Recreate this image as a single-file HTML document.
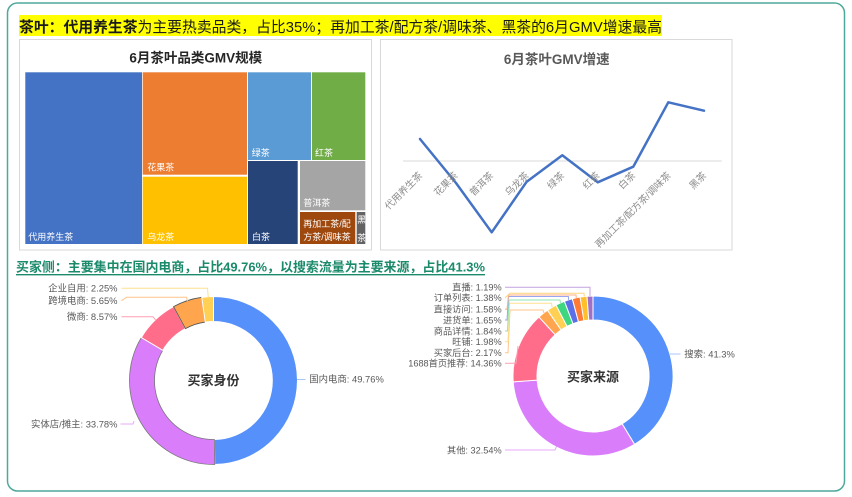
<!DOCTYPE html>
<html><head><meta charset="utf-8"><style>
html,body{margin:0;padding:0;background:#fff;}
svg{display:block;}
text{font-family:"Liberation Sans","Noto Sans CJK SC",sans-serif;}
</style></head><body>
<svg width="852" height="497" viewBox="0 0 852 497" xmlns="http://www.w3.org/2000/svg">
<defs>
<clipPath id="hc"><rect x="356.7" y="212" width="8.6" height="32"/></clipPath>
</defs>
<rect x="0" y="0" width="852" height="497" fill="#fff"/>
<rect x="7.5" y="3" width="837" height="488" rx="10" ry="10" fill="#fff" stroke="#4fa99a" stroke-width="1.5"/>

<!-- header 1 -->
<rect x="19" y="15" width="643" height="21" fill="#ffff00"/>
<text x="19" y="32" font-size="15" fill="#1a1a1a" textLength="643" lengthAdjust="spacingAndGlyphs"><tspan font-weight="bold">茶叶：代用养生茶</tspan>为主要热卖品类，占比35%；再加工茶/配方茶/调味茶、黑茶的6月GMV增速最高</text>

<!-- treemap box -->
<rect x="19.5" y="39.5" width="352" height="210.5" fill="#fff" stroke="#d9d9d9" stroke-width="1"/>
<text x="195.7" y="62.5" font-size="13.5" font-weight="bold" fill="#262626" text-anchor="middle">6月茶叶品类GMV规模</text>
<g stroke="#fff" stroke-width="0">
<rect x="25.3" y="72.3" width="116.7" height="171.7" fill="#4472c4"/>
<rect x="142.7" y="72.3" width="104.3" height="102.4" fill="#ed7d31"/>
<rect x="142.7" y="176.7" width="104.3" height="67.3" fill="#ffc000"/>
<rect x="248" y="72.3" width="63" height="87.7" fill="#5b9bd5"/>
<rect x="312" y="72.3" width="53.3" height="87.7" fill="#70ad47"/>
<rect x="248" y="161" width="49.7" height="83" fill="#264478"/>
<rect x="300" y="161" width="65.3" height="49.3" fill="#a5a5a5"/>
<rect x="300" y="212" width="55.3" height="32" fill="#9e480e"/>
<rect x="356.7" y="212" width="8.6" height="32" fill="#636363"/>
</g>
<g font-size="9" fill="#fff">
<text x="28.3" y="240">代用养生茶</text>
<text x="147.3" y="170.5">花果茶</text>
<text x="147.3" y="240">乌龙茶</text>
<text x="251.7" y="156">绿茶</text>
<text x="315" y="156">红茶</text>
<text x="252" y="240">白茶</text>
<text x="303.3" y="206">普洱茶</text>
<text x="303.3" y="227">再加工茶/配</text>
<text x="303.3" y="240">方茶/调味茶</text>
<g clip-path="url(#hc)"><text x="357.2" y="223">黑</text><text x="357.2" y="241">茶</text></g>
</g>

<!-- line chart box -->
<rect x="380.5" y="39.5" width="351.5" height="210.5" fill="#fff" stroke="#d9d9d9" stroke-width="1"/>
<text x="556.7" y="64" font-size="13.5" font-weight="bold" fill="#595959" text-anchor="middle">6月茶叶GMV增速</text>
<line x1="403" y1="161" x2="721.7" y2="161" stroke="#d9d9d9" stroke-width="1"/>
<polyline points="420,139 456,183 491.7,232.3 526.7,181.7 562.3,155.3 597.7,182.3 633.3,166.7 668.3,102.3 704,110.7" fill="none" stroke="#4472c4" stroke-width="2.5" stroke-linejoin="round" stroke-linecap="round"/>
<g font-size="9.7" fill="#8c8c8c" text-anchor="end">
<text x="423" y="176" transform="rotate(-45 423 176)">代用养生茶</text>
<text x="458.5" y="176" transform="rotate(-45 458.5 176)">花果茶</text>
<text x="494" y="176" transform="rotate(-45 494 176)">普洱茶</text>
<text x="529.5" y="176" transform="rotate(-45 529.5 176)">乌龙茶</text>
<text x="565" y="176" transform="rotate(-45 565 176)">绿茶</text>
<text x="600.5" y="176" transform="rotate(-45 600.5 176)">红茶</text>
<text x="636" y="176" transform="rotate(-45 636 176)">白茶</text>
<text x="671.5" y="176" transform="rotate(-45 671.5 176)">再加工茶/配方茶/调味茶</text>
<text x="707" y="176" transform="rotate(-45 707 176)">黑茶</text>
</g>

<!-- header 2 -->
<text x="16" y="271.5" font-size="13" font-weight="bold" fill="#1b8a6b" textLength="469" lengthAdjust="spacingAndGlyphs">买家侧：主要集中在国内电商，占比49.76%，以搜索流量为主要来源，占比41.3%</text>
<line x1="16" y1="274.7" x2="485" y2="274.7" stroke="#1b8a6b" stroke-width="1.3"/>

<!-- donut 1 -->
<g stroke="#fff" stroke-width="1">
<path d="M213.5,296.5 A84,84 0 0 1 214.76,464.49 L214.39,439.49 A59,59 0 0 0 213.5,321.5 Z" fill="#5690fb"/>
<path d="M214.76,464.49 A84,84 0 0 1 141.3,337.56 L162.79,350.34 A59,59 0 0 0 214.39,439.49 Z" fill="#d97dfb" stroke="#777" stroke-width="0.8"/>
<path d="M141.3,337.56 A84,84 0 0 1 173.55,306.61 L185.44,328.6 A59,59 0 0 0 162.79,350.34 Z" fill="#ff6d8b"/>
<path d="M173.55,306.61 A84,84 0 0 1 201.72,297.33 L205.23,322.08 A59,59 0 0 0 185.44,328.6 Z" fill="#ffa54d" stroke="#555" stroke-width="0.8"/>
<path d="M201.72,297.33 A84,84 0 0 1 213.5,296.5 L213.5,321.5 A59,59 0 0 0 205.23,322.08 Z" fill="#ffd054"/>
</g>
<text x="213.5" y="385" font-size="13" font-weight="bold" fill="#333" text-anchor="middle">买家身份</text>
<g fill="none" stroke-width="1">
<polyline points="297,379.5 305.5,379.5" stroke="#a9c6fb"/>
<polyline points="120.5,424 133,424 134,421" stroke="#e6a8fb"/>
<polyline points="121.5,316.7 153,316.7 156,320.5" stroke="#ff9fb3"/>
<polyline points="121.5,300.7 126.5,297.3 186.5,297.3 187.5,301" stroke="#ffc48a"/>
<polyline points="121.5,288.3 207.5,288.3 208.3,297.5" stroke="#ffe08f"/>
</g>
<g font-size="9.4" fill="#595959">
<text x="309.3" y="382.7">国内电商: 49.76%</text>
<text x="117.5" y="427.3" text-anchor="end">实体店/摊主: 33.78%</text>
<text x="117.5" y="320" text-anchor="end">微商: 8.57%</text>
<text x="117.5" y="304" text-anchor="end">跨境电商: 5.65%</text>
<text x="117.5" y="291.6" text-anchor="end">企业自用: 2.25%</text>
</g>

<!-- donut 2 -->
<g stroke="#fff" stroke-width="1">
<path d="M593,296 A80,80 0 0 1 634.59,444.34 L622.11,423.84 A56,56 0 0 0 593,320 Z" fill="#5690fb"/>
<path d="M634.59,444.34 A80,80 0 0 1 513.21,381.83 L537.15,380.08 A56,56 0 0 0 622.11,423.84 Z" fill="#d97dfb"/>
<path d="M513.21,381.83 A80,80 0 0 1 538.98,317 L555.18,334.7 A56,56 0 0 0 537.15,380.08 Z" fill="#ff6d8b"/>
<path d="M538.98,317 A80,80 0 0 1 547.49,310.21 L561.14,329.95 A56,56 0 0 0 555.18,334.7 Z" fill="#ffa54d"/>
<path d="M547.49,310.21 A80,80 0 0 1 556.01,305.06 L567.11,326.34 A56,56 0 0 0 561.14,329.95 Z" fill="#ffd054"/>
<path d="M556.01,305.06 A80,80 0 0 1 564.43,301.27 L573,323.69 A56,56 0 0 0 567.11,326.34 Z" fill="#3ed67f"/>
<path d="M564.43,301.27 A80,80 0 0 1 572.32,298.72 L578.52,321.9 A56,56 0 0 0 573,323.69 Z" fill="#5b70e8"/>
<path d="M572.32,298.72 A80,80 0 0 1 580.09,297.05 L583.96,320.73 A56,56 0 0 0 578.52,321.9 Z" fill="#ff7a35"/>
<path d="M580.09,297.05 A80,80 0 0 1 586.98,296.22 L588.78,320.16 A56,56 0 0 0 583.96,320.73 Z" fill="#ffbf2a"/>
<path d="M586.98,296.22 A80,80 0 0 1 593,296 L593,320 A56,56 0 0 0 588.78,320.16 Z" fill="#a070c8"/>
</g>
<text x="593" y="381.5" font-size="13" font-weight="bold" fill="#333" text-anchor="middle">买家来源</text>
<g fill="none" stroke-width="1">
<polyline points="670,354 680.5,354" stroke="#a9c6fb"/>
<polyline points="505,450 555,450 556.5,446.5" stroke="#e6a8fb"/>
<polyline points="505,363.3 516,363.3 518,346" stroke="#ff9fb3"/>
<polyline points="505,352.7 508,352.7 510,310 543,310 544,313" stroke="#ffc48a"/>
<polyline points="505,341.7 508,341.7 509.5,303.3 551.5,303.3 552,307" stroke="#ffe08f"/>
<polyline points="505,331 507.5,331 509,300 560,300 560.5,303" stroke="#8ee6b3"/>
<polyline points="505,320 507,320 508.5,296.5 568.4,296.5 568.6,300" stroke="#9aa6f0"/>
<polyline points="505,309.3 507,309.3 508.5,295 576,295 576.3,298" stroke="#ffaf85"/>
<polyline points="505,297.7 510,293.3 584,293.3 584.3,296.5" stroke="#ffd67a"/>
<polyline points="505,287.3 590,287.3 590,296" stroke="#c3a2e0"/>
</g>
<g font-size="9.2" fill="#595959" text-anchor="end">
<text x="501.7" y="290.5">直播: 1.19%</text>
<text x="501.7" y="301">订单列表: 1.38%</text>
<text x="501.7" y="312.5">直接访问: 1.58%</text>
<text x="501.7" y="323.3">进货单: 1.65%</text>
<text x="501.7" y="334.3">商品详情: 1.84%</text>
<text x="501.7" y="345">旺铺: 1.98%</text>
<text x="501.7" y="356">买家后台: 2.17%</text>
<text x="501.7" y="366.6">1688首页推荐: 14.36%</text>
<text x="501.7" y="453.3">其他: 32.54%</text>
</g>
<text x="684.3" y="357.3" font-size="9.4" fill="#595959">搜索: 41.3%</text>
</svg>
</body></html>
